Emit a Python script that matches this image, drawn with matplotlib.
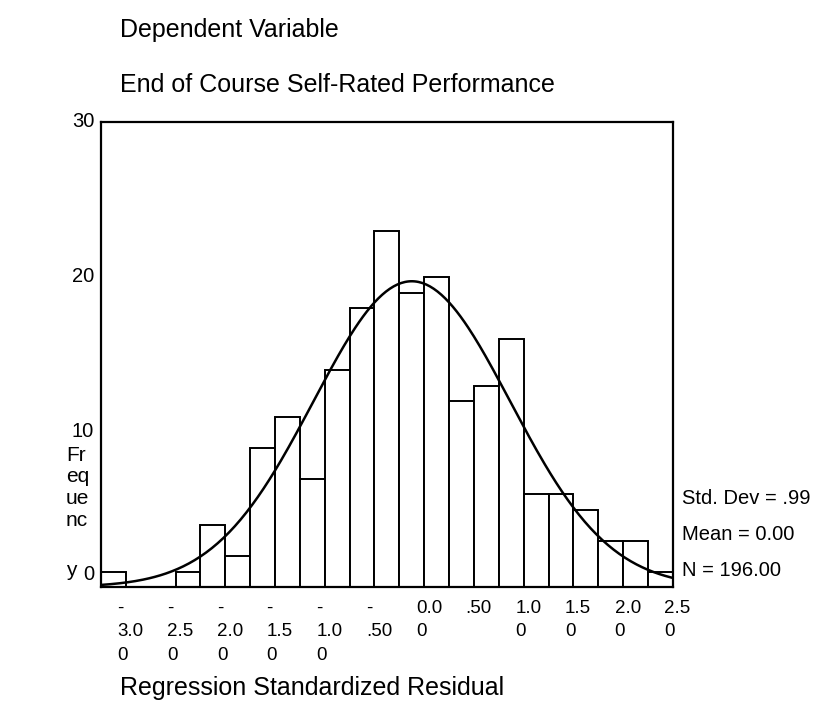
import numpy as np
import matplotlib
matplotlib.use('Agg')
import matplotlib.pyplot as plt
from matplotlib.transforms import ScaledTranslation

plt.rcParams['font.family'] = ['Liberation Sans', 'DejaVu Sans']

# histogram of regression standardized residuals (bin width .25)
bin_centers = [-3.0 + 0.25 * i for i in range(23)]
counts = [1, 0, 0, 1, 4, 2, 9, 11, 7, 14, 18, 23, 19, 20, 12, 13, 16, 6, 6, 5, 3, 3, 1]
tick_vals = [-3.0, -2.5, -2.0, -1.5, -1.0, -0.5, 0.0, 0.5, 1.0, 1.5, 2.0, 2.5]
tick_text = ['-\n3.0\n0', '-\n2.5\n0', '-\n2.0\n0', '-\n1.5\n0', '-\n1.0\n0', '-\n.50',
             '0.0\n0', '.50', '1.0\n0', '1.5\n0', '2.0\n0', '2.5\n0']
std_dev = 0.99
mean = 0.00
n = 196
width = 0.25

fig = plt.figure(figsize=(8.18, 7.17), dpi=100)
ax = fig.add_axes([0.1235, 0.1813, 0.699, 0.6479])

ax.bar(bin_centers, counts, width=width, color='white', edgecolor='black', linewidth=1.4)

# normal curve
xs = np.linspace(-3.125, 2.625, 300)
ys = n * width / (std_dev * np.sqrt(2 * np.pi)) * np.exp(-0.5 * ((xs - mean) / std_dev) ** 2)
ax.plot(xs, ys, color='black', linewidth=1.8)

ax.set_xlim(-3.125, 2.625)
ax.set_ylim(0, 30)
for s in ax.spines.values():
    s.set_linewidth(1.6)

ax.set_yticks([0, 10, 20, 30])
ax.set_yticklabels(['0', '10', '20', '30'], fontsize=14.5)
ax.tick_params(axis='y', length=0, pad=5)
ylabs = ax.get_yticklabels()
ylabs[0].set_transform(ylabs[0].get_transform() + ScaledTranslation(0, 0.15, fig.dpi_scale_trans))
for lab in ylabs[1:]:
    lab.set_transform(lab.get_transform() + ScaledTranslation(0, 0.03, fig.dpi_scale_trans))

ax.set_xticks(tick_vals)
ax.set_xticklabels(tick_text, fontsize=13.5, ha='left', linespacing=1.5)
ax.tick_params(axis='x', length=0, pad=9)
for lab in ax.get_xticklabels():
    lab.set_transform(lab.get_transform() + ScaledTranslation(0.04, 0, fig.dpi_scale_trans))

fig.text(120 / 818, 1 - 30 / 717, 'Dependent Variable', fontsize=18, va='center')
fig.text(120 / 818, 1 - 85 / 717, 'End of Course Self-Rated Performance', fontsize=18, va='center')
fig.text(120 / 818, 1 - 688 / 717, 'Regression Standardized Residual', fontsize=18, va='center')

for txt, yy in zip(['Fr', 'eq', 'ue', 'nc', 'y'], [455, 477, 498, 520, 570]):
    fig.text(66 / 818, 1 - yy / 717, txt, fontsize=15, va='center')

for txt, yy in zip(['Std. Dev = .99', 'Mean = 0.00', 'N = 196.00'], [498, 535, 570]):
    fig.text(682 / 818, 1 - yy / 717, txt, fontsize=14.5, va='center')

fig.savefig('out.png', dpi=100)
